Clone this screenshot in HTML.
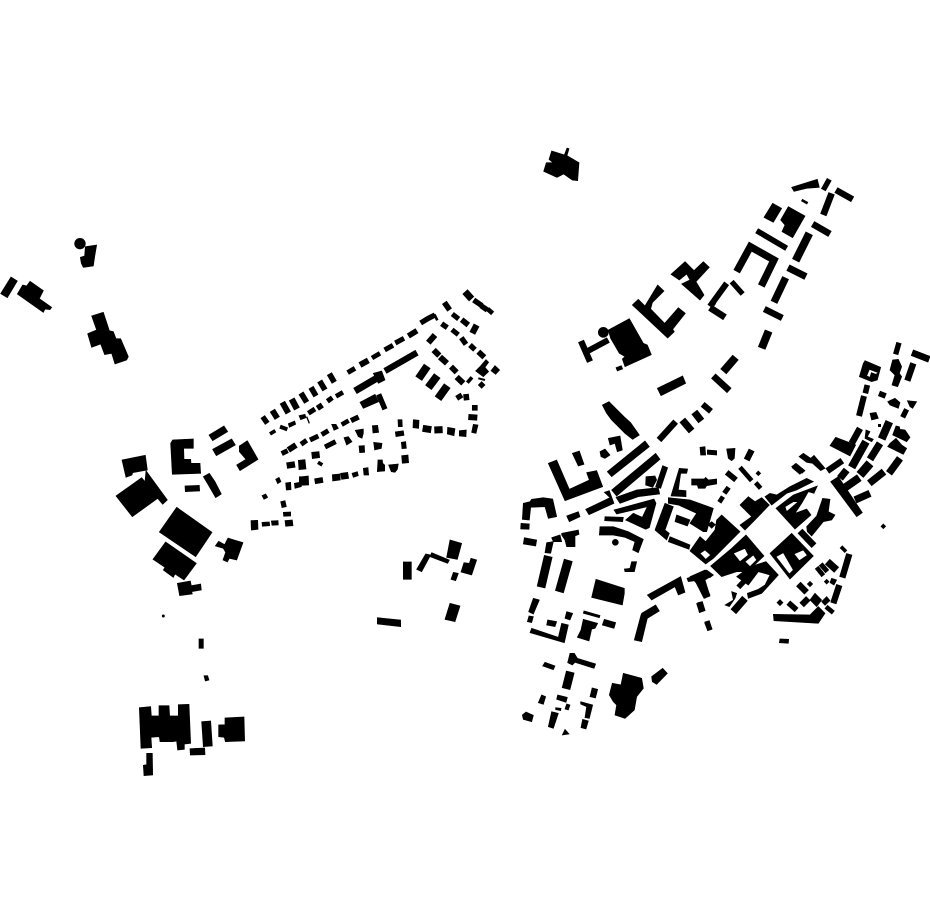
<!DOCTYPE html>
<html><head><meta charset="utf-8"><style>html,body{margin:0;padding:0;background:#fff}svg{display:block}path[stroke-width]{fill:none}</style></head><body>
<svg xmlns="http://www.w3.org/2000/svg" width="930" height="924" viewBox="0 0 930 924" fill="#000" stroke="#000" fill-rule="evenodd">
<g stroke-width="2">
<g transform="translate(535 140) scale(.3333)">
<path d="M50 33L88 45 96 24 102 26 96 47 132 68 128 122 112 120 86 102 66 112 26 94 34 68 54 68 42 58Z"/>
</g>
<g transform="translate(0 230) scale(.3333)">
<path d="M33 141L52 153 22 203 2 191Z"/>
<path d="M90 154L130 182 118 206 155 232 150 239 135 237 130 247 52 192 68 165 80 168Z"/>
<circle cx="240" cy="41" r="16"/>
<path d="M256 50L290 45 284 80 280 108 250 112 244 100 241 82 254 78Z"/>
<path d="M275 258L310 247 328 302 340 305 348 326 362 326 385 380 380 390 345 402 335 370 314 374 302 342 275 352 263 311 290 300Z"/>
</g>
<g transform="translate(110 420) scale(.3333)">
<path d="M36 120L106 106 112 150 68 158 66 165 48 172Z"/>
<path d="M108 152L172 240 158 253 143 235 67 290 18 228 95 173 105 185Z"/>
<path d="M188 60L250 57 250 85 221 85 222 118 242 118 243 130 270 130 272 160 187 163 182 70Z"/>
<path d="M297 45L342 18 353 35 308 62Z"/>
<path d="M308 88L365 57 376 75 319 107Z"/>
<path d="M388 78L412 62 444 118 390 152 380 135 408 118 388 95Z"/>
<path d="M225 198L268 196 269 213 226 215Z"/>
<path d="M280 170L298 160 315 185 334 222 317 233 295 195Z"/>
<path d="M200 262L306 337 257 410 148 336Z"/>
<path d="M167 366L259 430 222 480 195 462 190 472 160 450 165 442 129 418Z"/>
<path d="M326 364L344 374 354 354 372 360 399 368 380 420 358 415 352 426 339 420 347 397 340 385 316 378Z"/>
<path d="M202 490L241 483 244 497 272 492 274 510 245 515 247 522 209 527Z"/>
</g>
<g transform="translate(250 285) scale(.3333)">
<path stroke-width="16" d="M38 395L52 415M592 0M512 114L535 100 555 90M671 45L696 62M693 62L712 75M575 116L592 128M634 158L648 178M660 180L675 194M620 340L636 330"/>
<path stroke-width="18" d="M67 376L82 400M97 352L115 384M551 195L568 212M570 216L591 235M620 276L640 295"/>
<path stroke-width="19" d="M125 342L141 372M110 542L135 538"/>
<path stroke-width="17" d="M153 324L170 352M183 307L198 333M209 288L225 315M238 266L253 292M475 153L501 137M583 52L599 75M635 104L655 120M685 200L703 217M603 245L620 262M648 327L650 346M202 370L217 360M194 589L219 585"/>
<path stroke-width="15" d="M293 263L315 250M404 195L429 181M436 174L462 160M607 87L626 102M606 134L625 149M175 385L195 372M232 349L247 338M95 506L113 497M153 478L170 466M180 465L205 453M215 449L235 437M225 486L257 470"/>
<path stroke-width="18" d="M330 240L355 226"/>
<path stroke-width="14" d="M366 219L390 205M713 72L728 85M258 334L279 322M275 419L296 407"/>
<path stroke-width="8" d="M553 88L562 106"/>
<path stroke-width="19" d="M680 120L667 145M405 258L501 203"/>
<path stroke-width="18" d="M535 173L555 150M655 396L682 398M115 495L138 480"/>
<path stroke-width="21" d="M645 20L665 42M315 318L385 277M518 430L544 434M553 435L578 434"/>
<path stroke-width="11" d="M652 293L666 277M60 447L76 437M204 532L217 540"/>
<path stroke-width="24" d="M506 281L532 243M535 308L562 272M564 341L592 302"/>
<path stroke-width="16" d="M386 328L405 373M436 448L462 444M303 407L326 396"/>
<path stroke-width="12" d="M90 425L112 433"/>
<path stroke-width="6" d="M685 280L705 285"/>
<path stroke-width="4" d="M170 395L178 415"/>
<path d="M708 224L716 232 705 247 716 260 700 275 677 258 690 245ZM735 242L749 255 737 268 723 257ZM695 290L705 300 695 310 685 300Z"/>
<path d="M370 265L395 258 405 285 385 295ZM330 352L375 328 386 350 340 370ZM667 361L682 361 682 376 667 376ZM670 418L684 420 678 445 665 442Z"/>
<path d="M490 404L507 406 506 430 489 428ZM593 427L615 431 612 452 592 447ZM628 437L649 435 648 455 628 453ZM444 404L456 404 457 425 445 425ZM454 472L467 470 469 490 456 491ZM455 512L474 510 476 533 457 535ZM416 540L445 537 442 553 435 562 424 560ZM384 525L397 525 398 535 404 540 404 558 382 560ZM340 550L354 548 356 570 342 570ZM306 565L322 560 325 572 310 577ZM272 565L293 562 296 580 275 583ZM247 569L270 567 271 585 248 588Z"/>
<path d="M155 575L175 573 176 600 156 601ZM133 595L148 592 148 575 154 575 154 605 135 610ZM107 594L122 592 123 614 109 615ZM77 583L87 577 93 590 83 596ZM36 632L47 627 53 637 42 643ZM92 650L105 647 109 665 96 668ZM100 682L122 681 122 693 101 694ZM105 707L127 705 129 722 107 724ZM64 708L84 707 85 720 66 721ZM36 712L58 711 59 722 37 724ZM3 707L23 706 24 733 4 735Z"/>
<path d="M115 416L134 408 137 418 118 427ZM147 392L165 388 168 398 152 404ZM245 418L258 418 265 430 252 436ZM145 526L165 524 168 552 147 554ZM185 502L207 500 209 518 187 521ZM282 458L295 455 306 470 290 480ZM316 436L340 432 340 445 336 460 325 455ZM367 422L383 421 386 442 369 444ZM327 483L343 482 344 502 329 503ZM371 472L396 475 394 490 374 495Z"/>
</g>
<g transform="translate(570 140) scale(.3333)">
<path d="M665 142L742 118 748 142 710 145 672 154Z"/>
<path stroke-width="16" d="M760 150L778 118M485 425L518 462"/>
<path stroke-width="19" d="M798 150L848 178M583 507L637 534M33 603L60 665"/>
<path stroke-width="20" d="M785 160L760 225M728 252L780 282M430 708L478 752M420 503L465 532"/>
<path stroke-width="8" d="M695 180L713 190"/>
<path d="M608 190L635 205 610 247 582 232ZM655 200L705 228 668 293 636 275 645 255 632 240Z"/>
<path stroke-width="17" d="M560 272L650 325"/>
<path stroke-width="24" d="M718 280L677 362M596 573L575 625M497 652L460 695"/>
<path stroke-width="22" d="M500 395L541 320 612 360 574 438M647 413L612 487"/>
<path stroke-width="21" d="M654 383L708 410"/>
<path stroke-width="18" d="M470 430L425 492 433 498M115 600L50 635"/>
<path d="M345 365L372 392 400 365 418 382 378 425 402 465 390 480 335 432 360 420 350 402 328 420 303 403Z"/>
<path d="M187 495L205 478 225 498 263 435 282 453 247 488 242 507 284 550 325 503 346 520 308 568 313 575 293 594Z"/>
<path d="M178 536L220 610 232 615 244 644 165 680 157 657 165 650 148 640 122 595 115 570Z"/>
<circle cx="100" cy="577" r="15"/>
<path d="M138 683L154 677 158 687 142 693ZM262 745L338 708 347 730 273 767Z"/>
</g>
<g transform="translate(510 400) scale(.3333)">
<path stroke-width="18" d="M578 13L603 34"/>
<path stroke-width="22" d="M553 36L574 63M517 60L545 93"/>
<path stroke-width="19" d="M497 65L447 120"/>
<path d="M277 15L297 5 322 30 342 50 362 68 388 105 368 118 345 100 325 80 305 60 290 40Z"/>
<path d="M295 115L330 108 337 150 322 155 315 130 300 135ZM270 155L285 147 300 165 285 175 273 170ZM187 160L208 153 222 193 205 198ZM115 190L140 180 178 268 238 240 230 218 260 212 278 260 165 302Z"/>
<path d="M292 215L405 123 418 140 305 230ZM305 270L437 160 450 178 320 288ZM408 230L435 228 440 240 428 262 407 255ZM458 197L473 203 452 265 437 260ZM318 292L380 270 445 263 449 282 385 290 330 310Z"/>
<path d="M170 348L205 335 210 350 178 365ZM227 328L300 293 283 277 298 272 312 310 237 344Z"/>
<path d="M508 205L533 207 530 220 512 220 505 270 528 272 528 290 483 288ZM545 237L583 237 587 232 595 240 620 237 620 252 590 257 585 265 565 265 562 255 545 255Z"/>
<path d="M475 293L540 300 610 325 590 395 580 395 540 370 560 340 505 315 475 310ZM500 345L540 360 532 378 495 365ZM465 310L490 320 465 390 478 400 470 420 435 390ZM480 410L540 435 537 448 475 425Z"/>
<path d="M312 330L432 297 438 310 418 383 407 388 347 360 370 340 397 352 412 320 320 342ZM285 350L340 352 338 365 284 362Z"/>
<path d="M270 380L310 380 355 395 400 418 385 458 368 450 375 425 345 412 310 405 268 405Z"/>
<circle cx="316" cy="427" r="9"/>
<path d="M40 310L60 305 65 298 100 293 128 297 140 350 115 355 105 320 62 322 58 360 37 358ZM33 370L58 372 57 388 32 387ZM43 413L80 420 77 438 40 432ZM125 413L150 405 155 425 130 425ZM155 400L205 390 207 403 195 408 195 440 170 440 165 420 155 405ZM110 428L130 425 122 460 105 458Z"/>
</g>
<g transform="translate(690 430) scale(.3333)">
<path d="M30 52L45 50 47 75 32 75ZM52 60L80 62 80 75 52 73ZM110 57L135 55 133 85 125 92 115 85Z"/>
<path stroke-width="19" d="M185 60L170 90M325 462L350 487M335 525L355 505M478 372L457 443M448 465L430 520"/>
<path stroke-width="14" d="M150 112L185 152M197 158L212 175M99 200L88 217M380 412L400 437M408 530L430 548"/>
<path stroke-width="15" d="M116 172L103 190M392 402L412 425"/>
<path stroke-width="17" d="M110 127L138 150M295 518L320 540"/>
<path stroke-width="11" d="M453 350L468 365"/>
<path stroke-width="22" d="M412 395L440 420M130 545L165 505"/>
<path stroke-width="20" d="M28 517L37 545M330 303L372 347"/>
<path stroke-width="16" d="M50 575L60 600M310 107L335 128M145 472L180 435"/>
<path d="M205 123L212 130 205 137 198 130ZM65 275L76 284 65 295 54 284Z"/>
<path d="M95 255L150 305 70 385 47 402 0 363 30 320 47 335 75 300 80 270ZM30 370L45 360 62 375 47 388Z"/>
<path d="M168 315L222 378 172 425 140 425 110 435 95 440 62 408 125 355ZM130 370L165 355 175 375 150 395ZM165 395L190 375 200 390 180 410Z"/>
<path d="M240 370L305 310 370 378 300 447ZM258 380L280 368 310 420 298 432ZM312 372L340 360 352 376 328 392Z"/>
<path d="M350 290L380 258 398 205 420 208 415 245 435 255 425 270 400 275 365 318 352 305Z"/>
<path d="M225 200L240 190 260 195 300 170 350 145 370 155 320 180 290 190 245 225Z"/>
<path d="M258 235L310 195 382 168 372 190 355 185 335 220 315 250 350 237 363 255 315 297ZM285 230L310 215 325 215 290 245Z"/>
<path d="M150 225L175 200 195 215 215 203 238 225 190 275 165 300 150 285 185 260Z"/>
<path d="M0 440L45 420 70 435 60 443 42 435 40 450 60 495 45 505 20 460 5 445Z"/>
<path d="M140 440L180 410 228 395 265 435 215 490 175 505 172 490 205 478 225 465 240 435 205 425 175 465Z"/>
<path d="M105 525L130 510 125 485 140 490 135 505 118 530Z"/>
<path d="M270 509L279 518 270 527 261 518ZM360 454L368 462 360 470 352 462ZM410 448L417 455 410 462 403 455ZM425 445L440 450 432 465 420 458Z"/>
<path d="M250 553L360 555 385 530 405 550 385 580 252 572ZM360 510L375 490 395 510 380 530ZM395 515L410 500 420 512 405 526Z"/>
<path d="M270 627L296 628 295 640 268 638Z"/>
</g>
<g transform="translate(790 330) scale(.3333)">
<path stroke-width="16" d="M327 38L317 73M350 238L338 262"/>
<path stroke-width="20" d="M366 68L418 88M210 295L185 340"/>
<path d="M308 90L325 88 335 110 328 130 335 140 323 170 306 165 315 135 300 120Z"/>
<path stroke-width="19" d="M370 100L352 152M112 423L157 392"/>
<path d="M225 92L272 112 262 150 245 155 208 140 220 100ZM238 118L265 128 258 133 244 128 240 142 230 138Z"/>
<path stroke-width="17" d="M232 165L226 190M267 190L287 198"/>
<path d="M293 215L315 205 330 218 325 235 300 225ZM352 212L380 215 368 235 360 230Z"/>
<path stroke-width="18" d="M222 198L207 258"/>
<path d="M240 250L258 247 265 265 245 270ZM265 283L272 283 272 290 265 290Z"/>
<path stroke-width="24" d="M298 275L275 327M228 335L185 412M165 473L208 443"/>
<path d="M318 288L328 290 330 298 345 300 360 322 350 335 308 315ZM300 340L318 325 335 345 350 355 340 373 293 350ZM120 347L137 322 197 345 180 378ZM228 300L240 305 232 320 250 328 245 335 225 325Z"/>
<path stroke-width="22" d="M270 340L240 388M330 385L297 430M170 420L150 445M282 425L238 460M195 510L240 490"/>
<path stroke-width="27" d="M240 400L210 435"/>
<path d="M122 455L145 440 217 548 200 560ZM27 380L40 370 62 385 72 376 105 415 92 422 68 400 50 397ZM5 410L18 400 45 422 36 430ZM280 582L287 589 280 596 273 589Z"/>
</g>
<g transform="translate(515 560) scale(.3333)">
<path stroke-width="26" d="M100 -12L78 82M166 335L153 387"/>
<path stroke-width="27" d="M160 0L133 96"/>
<path d="M350 5L365 5 358 35 330 35 328 27 345 25ZM243 58L328 85 328 100 322 135 230 112Z"/>
<path d="M397 105L497 50 510 97 490 105 480 80 410 120ZM380 160L422 135 433 153 397 175 380 245 358 240 378 165ZM516 55L555 42 575 30 595 45 570 60 585 108 567 115 540 62 520 65Z"/>
<path d="M548 128L562 125 570 152 553 158ZM570 186L583 182 591 208 578 212Z"/>
<path d="M55 115L73 120 55 162 41 155ZM42 168L55 170 50 188 37 185ZM98 180L125 185 120 200 95 195ZM155 155L173 160 165 180 150 175ZM50 205L130 232 140 190 160 195 148 248 45 218Z"/>
<path stroke-width="9" d="M205 156L255 170"/>
<path d="M205 178L248 190 240 205 230 207 222 243 187 232 198 210ZM268 178L302 188 297 205 262 195Z"/>
<path d="M165 280L178 280 187 295 242 312 237 325 180 307 172 315 158 308ZM90 307L120 318 115 329 83 318Z"/>
<path stroke-width="19" d="M240 385L233 413"/>
<path d="M128 405L157 412 153 427 125 418ZM80 405L92 410 85 433 70 428ZM22 465L33 456 55 466 50 485 25 478ZM122 443L138 445 137 452 122 449ZM155 432L165 435 160 450 150 447ZM197 425L233 435 223 475 210 473 215 440 197 432ZM110 455L130 460 115 505 100 500ZM203 478L220 483 213 507 198 503ZM150 508L162 522 142 525Z"/>
<path d="M325 340L380 355 385 385 365 410 358 450 330 475 300 465 305 435 295 425 283 405 292 370 318 375Z"/>
<path d="M410 350L443 325 457 340 425 373 412 365Z"/>
</g>
<g transform="translate(130 610) scale(.3333)">
<circle cx="100" cy="18" r="3.5"/>
<path d="M207 87L220 87 220 115 207 115ZM222 197L233 197 237 210 226 213Z"/>
<path d="M28 293L62 290 64 318 87 318 87 287 117 287 119 318 145 318 145 284 177 283 182 400 163 402 163 418 143 420 140 393 128 395 90 395 88 380 63 382 65 413 33 415Z"/>
<path d="M215 335L242 333 247 408 220 410ZM180 416L224 414 225 434 181 435ZM285 324L342 321 344 393 286 395 283 382 266 380 266 345 285 344ZM50 430L67 430 68 495 42 497 40 466 50 464Z"/>
</g>
<g transform="translate(370 530) scale(.3333)">
<path d="M100 96L124 96 124 148 100 148ZM167 72L182 75 155 125 140 118ZM185 68L238 90 233 100 180 80ZM240 30L275 40 262 88 230 82ZM250 127L265 130 257 152 243 148ZM282 98L298 100 303 85 320 90 305 135 273 126ZM240 220L270 228 255 275 225 268ZM22 263L92 270 92 290 22 282Z"/>
</g>
</g>
</svg>
</body></html>
